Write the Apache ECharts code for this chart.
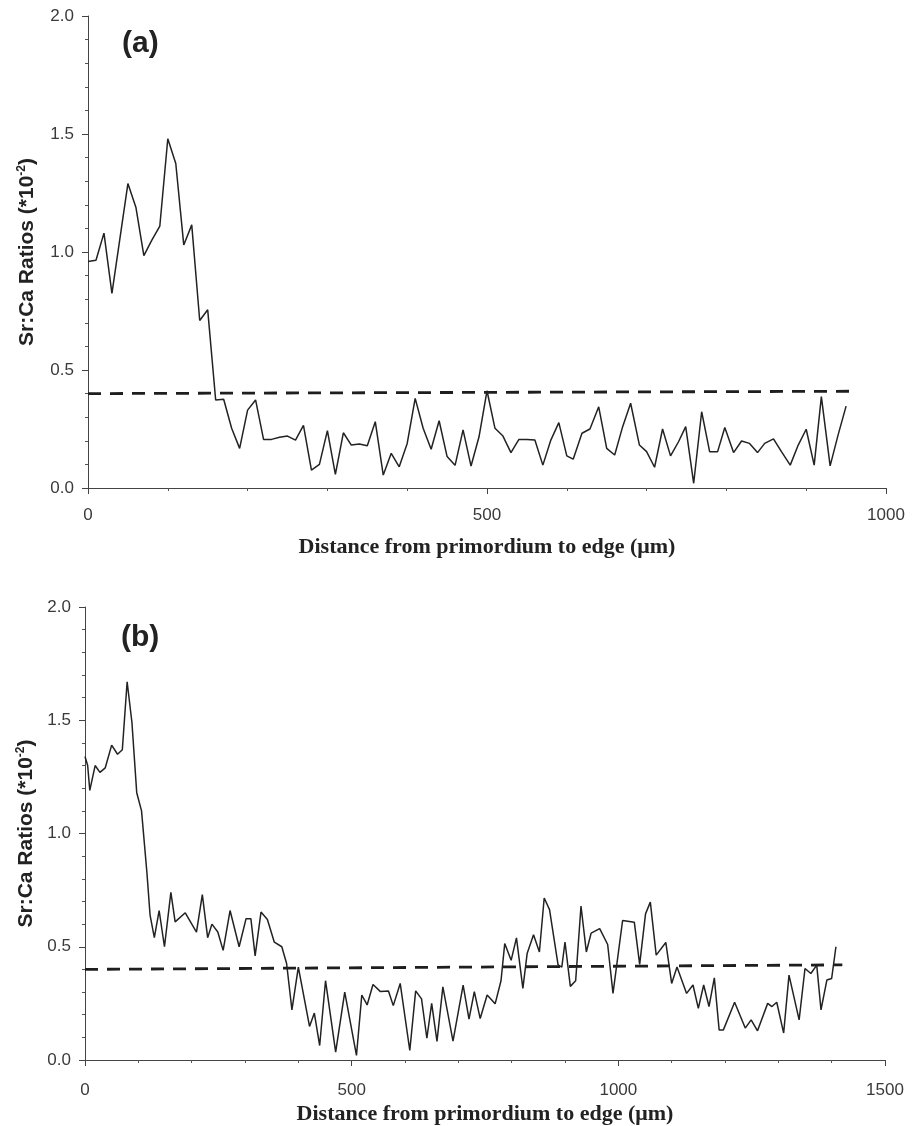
<!DOCTYPE html>
<html>
<head>
<meta charset="utf-8">
<script src="https://cdn.jsdelivr.net/npm/echarts@6/dist/echarts.min.js"></script>
<style>
  html, body { margin: 0; padding: 0; background: #fff; }
  #chart { width: 915px; height: 1126px; }
</style>
</head>
<body>
<div id="chart"></div>
<script>
// panel (a) - distance (um) and Sr:Ca ratio (*10^-2)
var distA = [0, 10, 20, 30, 50, 60, 70, 80, 90, 100, 110, 120, 130, 140, 150, 160, 170, 180, 190, 200,
  210, 220, 230, 240, 250, 260, 270, 280, 290, 300, 310, 320, 330, 340, 350, 360, 370, 380, 390, 400,
  410, 420, 430, 440, 450, 460, 470, 480, 490, 500, 510, 520, 530, 540, 550, 560, 570, 580, 590, 600,
  608, 619, 629, 640, 650, 660, 670, 680, 691, 700, 710, 720, 730, 740, 749, 759, 769, 779, 789, 798,
  809, 819, 829, 839, 848, 859, 869, 880, 890, 900, 910, 919, 930, 940, 950];
var ratioA = [0.96, 0.965, 1.08, 0.825, 1.29, 1.19, 0.985, 1.05, 1.11, 1.48, 1.375, 1.03, 1.115, 0.71, 0.755, 0.373, 0.376, 0.253, 0.168, 0.33,
  0.373, 0.206, 0.206, 0.215, 0.22, 0.203, 0.265, 0.076, 0.10, 0.243, 0.058, 0.234, 0.182, 0.186, 0.179, 0.281, 0.055, 0.147, 0.09, 0.189,
  0.38, 0.253, 0.164, 0.285, 0.133, 0.096, 0.246, 0.093, 0.217, 0.412, 0.253, 0.22, 0.15, 0.206, 0.206, 0.203, 0.097, 0.203, 0.277, 0.136,
  0.122, 0.232, 0.25, 0.344, 0.168, 0.14, 0.26, 0.359, 0.182, 0.154, 0.088, 0.25, 0.136, 0.196, 0.26, 0.02, 0.323, 0.154, 0.154, 0.256,
  0.15, 0.199, 0.189, 0.15, 0.189, 0.208, 0.154, 0.097, 0.182, 0.249, 0.097, 0.387, 0.094, 0.225, 0.347];
var refDistA = [0, 960];
var refRatioA = [0.40, 0.41];

// panel (b)
var distB = [0, 5, 9, 19, 28, 38, 50, 61, 70, 79, 88, 97, 106, 116, 122, 130, 139, 149, 161, 169,
  188, 209, 220, 230, 238, 249, 259, 272, 289, 302, 311, 319, 330, 342, 355, 369, 378, 388, 400, 421,
  430, 440, 451, 470, 487, 509, 519, 529, 540, 554, 569, 578, 591, 609, 620, 631, 641, 650, 660, 671,
  690, 709, 720, 730, 741, 754, 769, 780, 787, 799, 809, 821, 829, 841, 852, 861, 871, 887, 894, 900,
  910, 920, 930, 940, 949, 965, 980, 990, 1008, 1030, 1040, 1051, 1060, 1071, 1089, 1100, 1110, 1128, 1140, 1150,
  1160, 1170, 1180, 1189, 1197, 1218, 1238, 1249, 1261, 1280, 1288, 1297, 1310, 1320, 1339, 1350, 1361, 1372, 1380, 1391,
  1400, 1408];
var ratioB = [1.34, 1.30, 1.19, 1.30, 1.27, 1.29, 1.39, 1.35, 1.37, 1.67, 1.49, 1.18, 1.10, 0.83, 0.64, 0.54, 0.66, 0.50, 0.74, 0.61,
  0.65, 0.565, 0.73, 0.54, 0.60, 0.565, 0.484, 0.66, 0.50, 0.624, 0.624, 0.46, 0.653, 0.62, 0.52, 0.50, 0.426, 0.221, 0.41, 0.148,
  0.207, 0.064, 0.35, 0.035, 0.30, 0.02, 0.287, 0.243, 0.333, 0.302, 0.305, 0.24, 0.338, 0.042, 0.305, 0.27, 0.096, 0.25, 0.082, 0.323,
  0.083, 0.331, 0.18, 0.302, 0.183, 0.287, 0.248, 0.35, 0.514, 0.44, 0.539, 0.316, 0.47, 0.553, 0.477, 0.715, 0.664, 0.42, 0.41, 0.521,
  0.325, 0.35, 0.68, 0.477, 0.56, 0.58, 0.51, 0.294, 0.616, 0.608, 0.422, 0.645, 0.697, 0.463, 0.519, 0.338, 0.411, 0.294, 0.331, 0.228,
  0.331, 0.236, 0.363, 0.133, 0.133, 0.255, 0.141, 0.177, 0.129, 0.25, 0.236, 0.255, 0.119, 0.375, 0.177, 0.404, 0.382, 0.419, 0.221, 0.353,
  0.36, 0.50];
var refDistB = [0, 1420];
var refRatioB = [0.40, 0.42];

var yTicks = { min: 0, max: 2, step: 0.5 };
var panelLabels = ['(a)', '(b)'];
var xName = 'Distance from primordium to edge (\u03bcm)';

function pairs(xs, ys) {
  return xs.map(function (x, i) { return [x, ys[i]]; });
}

var axisLine = { lineStyle: { color: '#444', width: 1 } };
var tickLabel = { color: '#3a3a3a', fontFamily: 'Liberation Sans', fontSize: 17 };

function xAxis(idx, max, labelGap, gap) {
  return {
    type: 'value', gridIndex: idx, min: 0, max: max, interval: 500,
    axisLine: axisLine,
    axisTick: { show: true, length: 6, lineStyle: { color: '#444' } },
    minorTick: { show: true, splitNumber: 5, length: 3, lineStyle: { color: '#555' } },
    splitLine: { show: false },
    axisLabel: Object.assign({ margin: labelGap, formatter: function (v) { return String(v); } }, tickLabel),
    name: xName, nameLocation: 'middle', nameGap: gap,
    nameTextStyle: { fontFamily: 'Liberation Serif', fontWeight: 'bold', fontSize: 22, color: '#222' }
  };
}

function yAxis(idx, gap) {
  return {
    type: 'value', gridIndex: idx, min: yTicks.min, max: yTicks.max, interval: yTicks.step,
    axisLine: Object.assign({ show: true }, axisLine),
    axisTick: { show: true, length: 6, lineStyle: { color: '#444' } },
    minorTick: { show: true, splitNumber: 5, length: 3, lineStyle: { color: '#555' } },
    splitLine: { show: false },
    axisLabel: Object.assign({ margin: 14, formatter: function (v) { return v.toFixed(1); } }, tickLabel),
    name: 'Sr:Ca Ratios (*10{sup|-2})', nameLocation: 'middle', nameGap: gap,
    nameTextStyle: {
      fontFamily: 'Liberation Sans', fontWeight: 'bold', fontSize: 21, color: '#222',
      rich: { sup: { fontFamily: 'Liberation Sans', fontWeight: 'bold', fontSize: 12, color: '#222', verticalAlign: 'top', padding: [0, 0, 10, 0] } }
    }
  };
}

function dataLine(idx, xs, ys) {
  return {
    type: 'line', xAxisIndex: idx, yAxisIndex: idx, data: pairs(xs, ys),
    symbol: 'none', animation: false,
    lineStyle: { color: '#222', width: 1.5 }
  };
}

function refLine(idx, xs, ys) {
  return {
    type: 'line', xAxisIndex: idx, yAxisIndex: idx, data: pairs(xs, ys),
    symbol: 'none', animation: false,
    lineStyle: { color: '#1e1e1e', width: 2.8, type: [13, 9] }
  };
}

var labelStyle = { fontFamily: 'Liberation Sans', fontWeight: 'bold', fontSize: 30, color: '#222' };

var chart = echarts.init(document.getElementById('chart'), null, { renderer: 'canvas' });
chart.setOption({
  backgroundColor: '#fff',
  animation: false,
  title: [
    { text: panelLabels[0], left: 117, top: 24, textStyle: labelStyle },
    { text: panelLabels[1], left: 116, top: 618, textStyle: labelStyle }
  ],
  grid: [
    { left: 88, top: 16, width: 798, height: 472 },
    { left: 85, top: 607, width: 800, height: 455 }
  ],
  xAxis: [xAxis(0, 1000, 19, 48), xAxis(1, 1500, 22, 43)],
  yAxis: [yAxis(0, 50), yAxis(1, 48)],
  series: [
    refLine(0, refDistA, refRatioA),
    dataLine(0, distA, ratioA),
    refLine(1, refDistB, refRatioB),
    dataLine(1, distB, ratioB)
  ]
});
</script>
</body>
</html>
